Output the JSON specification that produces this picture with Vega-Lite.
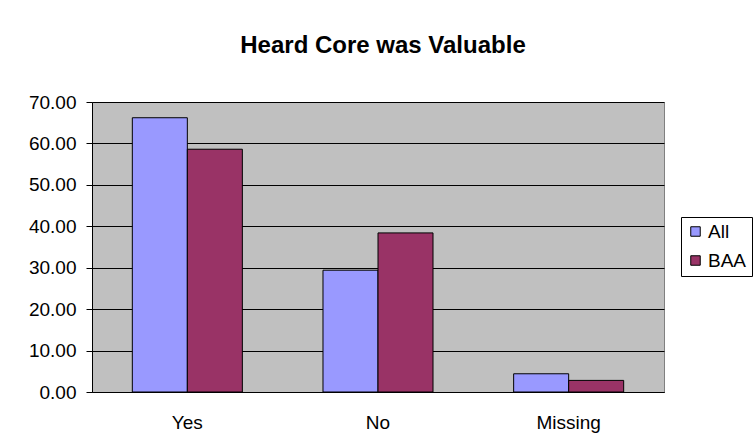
{
  "$schema": "https://vega.github.io/schema/vega-lite/v6.json",
  "width": 572,
  "height": 290,
  "autosize": {"type": "none"},
  "padding": {"left": 92, "top": 102, "right": 90, "bottom": 54},
  "background": "white",
  "title": {
    "text": "Heard Core was Valuable",
    "font": "Liberation Sans",
    "fontSize": 24,
    "fontWeight": "bold",
    "color": "black",
    "baseline": "alphabetic",
    "offset": 16,
    "dx": 5
  },
  "data": {
    "values": [
      {"answer": "Yes", "group": "All", "pct": 66.2},
      {"answer": "Yes", "group": "BAA", "pct": 58.6},
      {"answer": "No", "group": "All", "pct": 29.4},
      {"answer": "No", "group": "BAA", "pct": 38.4},
      {"answer": "Missing", "group": "All", "pct": 4.4},
      {"answer": "Missing", "group": "BAA", "pct": 2.8}
    ]
  },
  "mark": {"type": "bar", "stroke": "black", "strokeWidth": 1},
  "encoding": {
    "x": {
      "field": "answer",
      "type": "nominal",
      "sort": ["Yes", "No", "Missing"],
      "scale": {"paddingInner": 0, "paddingOuter": 0},
      "axis": {
        "title": null,
        "labelAngle": 0,
        "labelFont": "Liberation Sans",
        "labelFontSize": 19,
        "labelColor": "black",
        "labelBaseline": "alphabetic",
        "labelPadding": 36,
        "ticks": false,
        "domainColor": "black",
        "domainWidth": 1,
        "grid": false
      }
    },
    "xOffset": {
      "field": "group",
      "type": "nominal",
      "scale": {"paddingInner": 0, "paddingOuter": 0.733}
    },
    "y": {
      "field": "pct",
      "type": "quantitative",
      "scale": {"domain": [0, 70], "nice": false},
      "axis": {
        "title": null,
        "values": [0, 10, 20, 30, 40, 50, 60, 70],
        "format": ".2f",
        "labelFont": "Liberation Sans",
        "labelFontSize": 19,
        "labelColor": "black",
        "labelPadding": 10,
        "tickSize": 6,
        "tickColor": "black",
        "domainColor": "black",
        "gridColor": "black",
        "gridOpacity": 1,
        "grid": true
      }
    },
    "fill": {
      "field": "group",
      "type": "nominal",
      "scale": {"domain": ["All", "BAA"], "range": ["#9999FF", "#993366"]},
      "legend": {
        "title": null,
        "orient": "none",
        "legendX": 589,
        "legendY": 115,
        "strokeColor": "black",
        "fillColor": "white",
        "padding": 5,
        "symbolType": "square",
        "symbolSize": 90,
        "symbolStrokeColor": "black",
        "symbolStrokeWidth": 1,
        "labelFont": "Liberation Sans",
        "labelFontSize": 19,
        "labelColor": "black",
        "labelOffset": 3,
        "rowPadding": 9
      }
    }
  },
  "config": {
    "view": {"fill": "#C0C0C0", "stroke": "#808080", "strokeWidth": 1}
  }
}
